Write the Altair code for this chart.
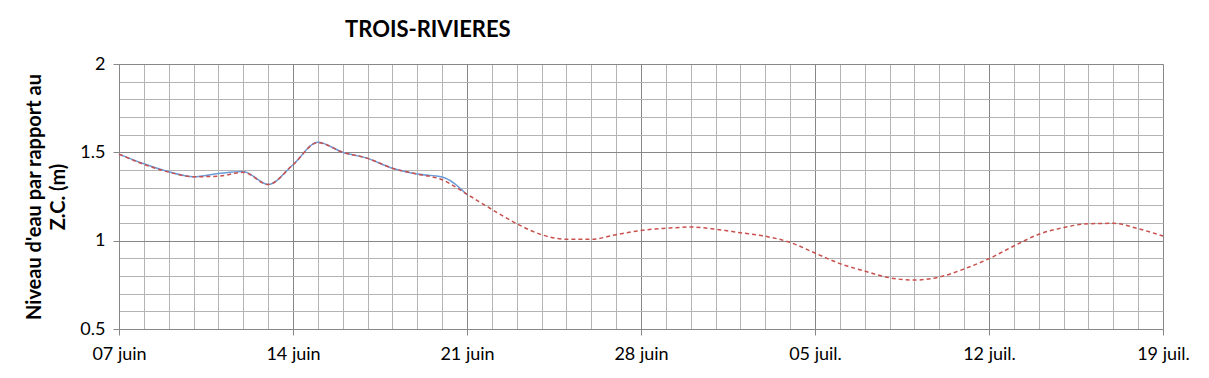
import json
import altair as alt
import pandas as pd

# ---- data ----
start_date = "2016-06-07"
obs_values = [1.49, 1.435, 1.39, 1.362, 1.38, 1.392, 1.318, 1.43, 1.557, 1.50,
              1.466, 1.41, 1.377, 1.36, 1.26]
pred_values = [1.49, 1.432, 1.388, 1.362, 1.365, 1.387, 1.318, 1.43, 1.555, 1.50,
               1.466, 1.41, 1.377, 1.345, 1.263, 1.177, 1.096, 1.034, 1.008, 1.008,
               1.034, 1.058, 1.07, 1.077,
               1.065, 1.045, 1.025, 0.99, 0.93, 0.87, 0.828, 0.79, 0.777, 0.794,
               0.84, 0.898, 0.97, 1.036, 1.074, 1.096, 1.098, 1.068, 1.026]
x_tick_labels = ["07 juin", "14 juin", "21 juin", "28 juin", "05 juil.", "12 juil.", "19 juil."]
y_major = [0.5, 1.0, 1.5, 2.0]
title_text = "TROIS-RIVIERES"
y_title = ["Niveau d'eau par rapport au", "Z.C. (m)"]

pred_dates = pd.date_range(start_date, periods=len(pred_values), freq="D")
obs_dates = pred_dates[:len(obs_values)]

df = pd.concat([
    pd.DataFrame({"date": obs_dates.strftime("%Y-%m-%d"), "v": obs_values, "s": "obs"}),
    pd.DataFrame({"date": pred_dates.strftime("%Y-%m-%d"), "v": pred_values, "s": "pred"}),
])

epoch = pd.Timestamp("1970-01-01")
t0 = int((pd.Timestamp(start_date) - epoch) / pd.Timedelta(milliseconds=1))
day_ticks = [int((d - epoch) / pd.Timedelta(milliseconds=1)) for d in pred_dates]
y_minor = [round(0.5 + 0.1 * i, 1) for i in range(16)]

FONT = "Lato"
MAJOR = "#878787"
MINOR = "#b4b4b4"

idx = f"round((datum.value - {t0}) / 86400000)"
week_test = f"{idx} % 7 == 0"
x_label_expr = f"{week_test} ? {json.dumps(x_tick_labels)}[{idx} / 7] : ''"
y_test = "abs(datum.value * 2 - round(datum.value * 2)) < 1e-6"

x_enc = alt.X(
    "date:T",
    scale=alt.Scale(type="utc", domain=[day_ticks[0], day_ticks[-1]], nice=False),
    axis=alt.Axis(
        values=day_ticks, labelExpr=x_label_expr, title=None,
        grid=True,
        gridColor={"condition": {"test": week_test, "value": MAJOR}, "value": MINOR},
        tickOpacity={"condition": {"test": week_test, "value": 1}, "value": 0},
        tickColor=MAJOR, tickSize=6, domainColor=MAJOR,
        labelFont=FONT, labelFontSize=18, labelColor="#000000", labelPadding=10,
        labelFlush=False, labelAngle=0,
    ),
)
y_enc = alt.Y(
    "v:Q",
    scale=alt.Scale(domain=[0.5, 2.0], nice=False, zero=False),
    axis=alt.Axis(
        values=y_minor, labelExpr=f"{y_test} ? datum.value + '' : ''",
        grid=True,
        gridColor={"condition": {"test": y_test, "value": MAJOR}, "value": MINOR},
        tickOpacity={"condition": {"test": y_test, "value": 1}, "value": 0},
        tickColor=MAJOR, tickSize=6, domainColor=MAJOR,
        labelFont=FONT, labelFontSize=18, labelColor="#000000", labelPadding=8,
        title=y_title, titleFont=FONT, titleFontSize=20, titleFontWeight="bold",
        titleColor="#000000", titlePadding=11, titleLineHeight=24,
    ),
)

obs = alt.Chart(df).transform_filter("datum.s == 'obs'").mark_line(
    color="#6b9bd8", strokeWidth=1.5, interpolate="monotone"
).encode(x=x_enc, y=y_enc)

pred = alt.Chart(df).transform_filter("datum.s == 'pred'").mark_line(
    color="#c8504d", strokeWidth=1.5, strokeDash=[4, 3], interpolate="monotone"
).encode(x=x_enc, y=y_enc)

chart = alt.layer(obs, pred).properties(
    width=1044, height=265,
    title=alt.TitleParams(
        text=title_text, font=FONT, fontSize=22, fontWeight="bold", color="#000000",
        anchor="start", frame="group", dx=226, offset=13,
    ),
    autosize=alt.AutoSizeParams(type="none"),
    padding={"left": 119, "top": 64, "right": 46, "bottom": 49},
).configure_view(strokeWidth=0).configure(background="white")

chart.save("out.html", embed_options={"renderer": "svg", "actions": False})
